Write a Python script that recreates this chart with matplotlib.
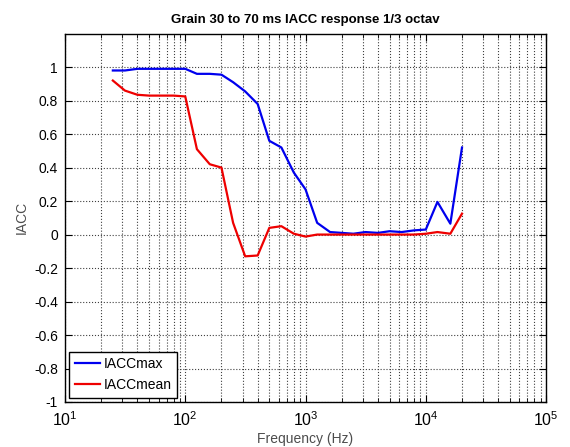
import numpy as np
from matplotlib import pyplot as plt
from matplotlib.ticker import LogLocator, NullFormatter

plt.rcParams['font.family'] = ['Liberation Sans', 'DejaVu Sans']

# 1/3 octave band centre frequencies
freqs = [25, 31.5, 40, 50, 63, 80, 100, 125, 160, 200, 250, 315, 400, 500, 630,
         800, 1000, 1250, 1600, 2000, 2500, 3150, 4000, 5000, 6300, 8000,
         10000, 12500, 16000, 20000]

iacc_max = [0.98, 0.98, 0.99, 0.99, 0.99, 0.99, 0.99, 0.96, 0.96, 0.955, 0.91, 0.855,
            0.78, 0.56, 0.52, 0.37, 0.27, 0.07, 0.015, 0.01, 0.005, 0.015, 0.01,
            0.02, 0.015, 0.025, 0.03, 0.195, 0.065, 0.52]

iacc_mean = [0.92, 0.86, 0.835, 0.83, 0.83, 0.83, 0.825, 0.51, 0.42, 0.40, 0.07, -0.13,
             -0.125, 0.04, 0.05, 0.005, -0.012, 0.0, 0.0, 0.0, 0.0, 0.0, 0.0,
             0.0, 0.0, 0.0, 0.005, 0.015, 0.005, 0.125]

fig = plt.figure(figsize=(5.7, 4.47), dpi=100)
ax = fig.add_axes([0.114, 0.1007, 0.844, 0.824])

ax.semilogx(freqs, iacc_max, color='#0000ee', lw=1.6, label='IACCmax')
ax.semilogx(freqs, iacc_mean, color='#ee0000', lw=1.6, label='IACCmean')

ax.set_xlim(10, 1e5)
ax.set_ylim(-1, 1.2)
ax.set_yticks(np.arange(-1, 1.01, 0.2))
ax.set_yticklabels(['-1', '-0.8', '-0.6', '-0.4', '-0.2', '0', '0.2', '0.4', '0.6', '0.8', '1'])
ax.xaxis.set_major_locator(LogLocator(base=10, numticks=10))
ax.xaxis.set_minor_locator(LogLocator(base=10, subs=np.arange(2, 10), numticks=100))
ax.xaxis.set_minor_formatter(NullFormatter())

ax.grid(True, which='major', linestyle=':', color='0.25', lw=0.8)
ax.grid(True, which='minor', axis='x', linestyle=':', color='0.25', lw=0.8)
ax.tick_params(which='both', direction='in', top=True, right=True)
ax.tick_params(axis='y', labelsize=10, pad=5)
ax.tick_params(axis='x', labelsize=11.5, pad=6)
ax.tick_params(which='major', length=5)
ax.tick_params(which='minor', length=3)
for s in ax.spines.values():
    s.set_linewidth(1.0)

ax.set_xlabel('Frequency (Hz)', fontsize=10, color='0.3', labelpad=2)
ax.set_ylabel('IACC', fontsize=10, color='0.3')
ax.set_title('Grain 30 to 70 ms IACC response 1/3 octav', fontsize=9.5, fontweight='bold', pad=8)

leg = ax.legend(loc='lower left', fontsize=10, fancybox=False, edgecolor='black',
                handlelength=1.8, handletextpad=0.3, borderaxespad=0.3, framealpha=1)
leg.get_frame().set_linewidth(1.0)

plt.savefig('out.png', dpi=100)
